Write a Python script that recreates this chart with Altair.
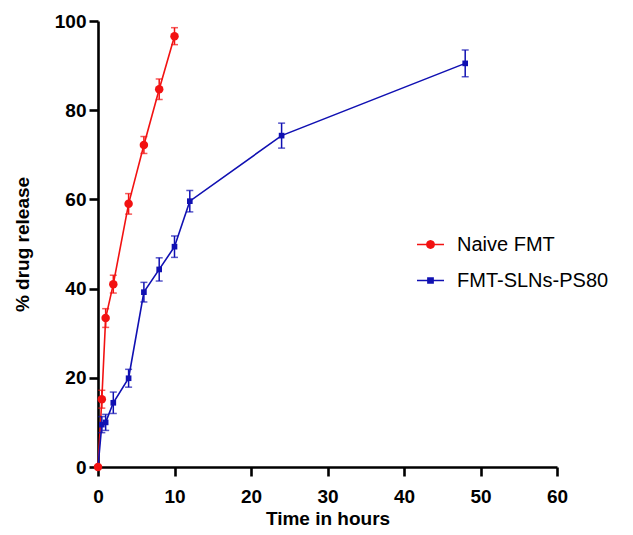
import altair as alt
import pandas as pd
import math

series_names = ["Naive FMT", "FMT-SLNs-PS80"]
series_colors = ["#f21212", "#1010b2"]

naive_time = [0, 0.5, 1, 2, 4, 6, 8, 10]
naive_release = [0, 15.2, 33.4, 41.0, 59.0, 72.2, 84.7, 96.6]
naive_err = [0, 2.0, 2.1, 2.0, 2.3, 1.9, 2.3, 1.9]

sln_time = [0, 0.5, 1, 2, 4, 6, 8, 10, 12, 24, 48]
sln_release = [0, 9.5, 10.0, 14.4, 19.9, 39.2, 44.3, 49.4, 59.6, 74.3, 90.5]
sln_err = [0, 1.8, 1.8, 2.4, 2.0, 2.2, 2.6, 2.4, 2.4, 2.8, 3.0]

x_ticks = [0, 10, 20, 30, 40, 50, 60]
y_ticks = [0, 20, 40, 60, 80, 100]

rows = []
for name, ts, ys, es in [(series_names[0], naive_time, naive_release, naive_err),
                         (series_names[1], sln_time, sln_release, sln_err)]:
    for i, (t, y, e) in enumerate(zip(ts, ys, es)):
        rows.append({"series": name, "t": t, "y": y, "lo": y - e, "hi": y + e, "err": e, "order": i})
df = pd.DataFrame(rows)

FONT = "Liberation Sans"

x_enc = alt.X("t:Q", scale=alt.Scale(domain=[0, 60], nice=False),
              axis=alt.Axis(values=x_ticks, title="Time in hours", grid=False,
                            domainColor="black", domainWidth=2.6, tickColor="black",
                            tickWidth=2.6, tickSize=9, labelFont=FONT, labelFontSize=19,
                            labelFontWeight="bold", labelColor="black", labelPadding=11,
                            titleFont=FONT, titleFontSize=19, titleFontWeight="bold",
                            titleColor="black", titleY=57, titleBaseline="alphabetic",
                            labelFlush=False))
y_enc = alt.Y("y:Q", scale=alt.Scale(domain=[0, 100], nice=False),
              axis=alt.Axis(values=y_ticks, title="% drug release", grid=False,
                            domainColor="black", domainWidth=2.6, tickColor="black",
                            tickWidth=2.6, tickSize=9, labelFont=FONT, labelFontSize=19,
                            labelFontWeight="bold", labelColor="black", labelPadding=3,
                            titleFont=FONT, titleFontSize=19, titleFontWeight="bold",
                            titleColor="black", titlePadding=22, labelFlush=False))
color_enc = alt.Color("series:N", scale=alt.Scale(domain=series_names, range=series_colors), legend=None)

base = alt.Chart(df)

lines = base.mark_line(strokeWidth=1.6).encode(
    x=x_enc, y=y_enc, color=color_enc, order="order:Q", detail="series:N")

bars = base.transform_filter("datum.err > 0").mark_rule(strokeWidth=1.5).encode(
    x="t:Q", y="lo:Q", y2="hi:Q", color=color_enc)

caps = base.transform_filter("datum.err > 0").transform_fold(["lo", "hi"], as_=["k", "v"]).mark_tick(
    orient="horizontal", size=7, thickness=1.5).encode(
    x="t:Q", y="v:Q", color=color_enc)

r = 0.27
poly = "L".join(f"{r * math.cos(2 * math.pi * k / 16):.3f},{r * math.sin(2 * math.pi * k / 16):.3f}" for k in range(16))
circle_path = f"M-1,0L1,0M{poly}Z"
square_path = "M-1,0L1,0M-0.19,-0.19L0.19,-0.19L0.19,0.19L-0.19,0.19Z"


def series_points(idx, shape, size, legend_y, glyph):
    name, col = series_names[idx], series_colors[idx]
    leg = alt.Legend(title=None, orient="none", legendX=318, legendY=legend_y, padding=0,
                     symbolType=glyph, symbolSize=729, symbolStrokeWidth=1.6,
                     symbolFillColor=col, symbolStrokeColor=col,
                     labelFont=FONT, labelFontSize=20, labelColor="black",
                     labelOffset=12, labelLimit=300)
    return base.transform_filter(alt.datum.series == name).mark_point(
        shape=shape, filled=True, size=size, opacity=1).encode(
        x="t:Q", y="y:Q",
        color=alt.Color("series:N", scale=alt.Scale(domain=[name], range=[col]), legend=leg))


pts_blue = series_points(1, "square", 32, 245, square_path)
pts_red = series_points(0, "circle", 72, 209, circle_path)

chart = alt.layer(lines, bars, caps, pts_blue, pts_red).resolve_scale(color="independent").properties(
    width=459, height=446, background="white",
    autosize=alt.AutoSizeParams(type="none"),
    padding={"left": 90, "top": 13, "right": 68, "bottom": 60},
).configure_view(stroke="transparent", strokeWidth=0).configure_axis(grid=False)

chart.save("out.html", embed_options={"renderer": "svg", "actions": False})
